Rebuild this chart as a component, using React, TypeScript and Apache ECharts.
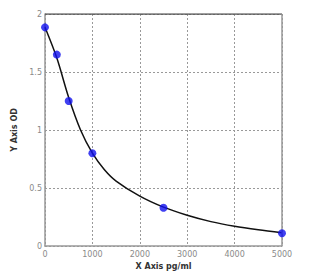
import React, { useEffect, useRef } from "react";
import * as echarts from "echarts";

const concentrations = [0, 250, 500, 1000, 2500, 5000];
const odValues = [1.885, 1.65, 1.25, 0.8, 0.33, 0.11];
const curveX = [0, 250, 500, 750, 1000, 1250, 1500, 2000, 2500, 3000, 3500, 4000, 4500, 5000];
const curveY = [1.885, 1.62, 1.28, 1.0, 0.8, 0.66, 0.56, 0.43, 0.335, 0.265, 0.21, 0.17, 0.14, 0.115];
const xTicks = [0, 1000, 2000, 3000, 4000, 5000];
const yTicks = [0, 0.5, 1, 1.5, 2];

export default function App() {
  const ref = useRef<HTMLDivElement>(null);
  useEffect(() => {
    const chart = echarts.init(ref.current!, null, { renderer: "svg" });
    const labelStyle = { color: "#8a8a8a", fontSize: 8, fontFamily: "DejaVu Sans" };
    chart.setOption({
      animation: false,
      backgroundColor: "#ffffff",
      grid: { left: 45, top: 14, width: 237, height: 232, show: false },
      xAxis: {
        type: "value",
        min: xTicks[0],
        max: xTicks[xTicks.length - 1],
        interval: 1000,
        name: "X Axis pg/ml",
        nameLocation: "middle",
        nameGap: 15,
        nameTextStyle: { color: "#333", fontSize: 8, fontWeight: "bold", fontFamily: "DejaVu Sans" },
        axisLine: { show: true, lineStyle: { color: "#999", width: 1.5 } },
        axisTick: { show: false },
        axisLabel: { ...labelStyle, margin: 4, formatter: (v: number) => String(v) },
        splitLine: { show: true, lineStyle: { color: "#999", type: [2, 2], width: 1 } },
      },
      yAxis: {
        type: "value",
        min: yTicks[0],
        max: yTicks[yTicks.length - 1],
        interval: 0.5,
        name: "Y Axis OD",
        nameLocation: "middle",
        nameGap: 18,
        nameRotate: 90,
        nameTextStyle: { color: "#333", fontSize: 8, fontWeight: "bold", fontFamily: "DejaVu Sans" },
        axisLine: { show: true, lineStyle: { color: "#999", width: 1.5 } },
        axisTick: { show: false },
        axisLabel: { ...labelStyle, margin: 3, formatter: (v: number) => String(v) },
        splitLine: { show: true, lineStyle: { color: "#999", type: [2, 2], width: 1 } },
      },
      series: [
        {
          type: "line",
          data: curveX.map((x, i) => [x, curveY[i]]),
          smooth: 0.3,
          showSymbol: false,
          lineStyle: { color: "#111", width: 1.5 },
          silent: true,
          z: 2,
        },
        {
          type: "scatter",
          data: concentrations.map((x, i) => [x, odValues[i]]),
          symbolSize: 8,
          itemStyle: { color: "#1010ee" },
          z: 3,
        },
        {
          type: "line",
          data: [[0, 2], [5000, 2]],
          showSymbol: false,
          lineStyle: { color: "#555", width: 1.5 },
          silent: true,
        },
        {
          type: "line",
          data: [[5000, 0], [5000, 2]],
          showSymbol: false,
          lineStyle: { color: "#999", width: 1.5 },
          silent: true,
        },
      ],
    });
    return () => chart.dispose();
  }, []);
  return <div ref={ref} style={{ position: "fixed", left: 0, top: 0, width: 326, height: 276 }} />;
}
